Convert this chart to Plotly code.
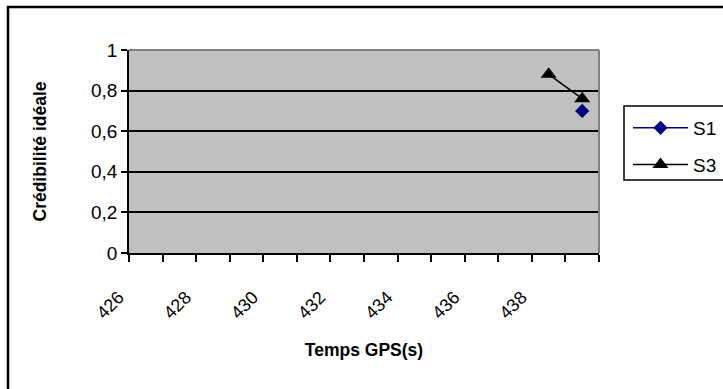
import plotly.graph_objects as go

categories = list(range(426, 440))
s1_x = [439]
s1_y = [0.70]
s3_x = [438, 439]
s3_y = [0.88, 0.76]
label_vals = categories[::2]
y_ticks = [0, 0.2, 0.4, 0.6, 0.8, 1]

L, R, T, B = 129, 124, 50, 136
W, H = 723, 389
PW, PH = W - L - R, H - T - B

def px(x):
    return (x - L) / PW

def py(y):
    return (H - B - y) / PH

fig = go.Figure()
fig.add_trace(go.Scatter(x=s1_x, y=s1_y, name="S1", mode="lines+markers",
                         legendgroup="a",
                         line=dict(color="#000080", width=1.5),
                         marker=dict(symbol="diamond", size=11, color="#000080")))
fig.add_trace(go.Scatter(x=s3_x, y=s3_y, name="S3", mode="lines+markers",
                         legendgroup="b",
                         line=dict(color="black", width=1.5),
                         marker=dict(symbol="triangle-up", size=14, color="black")))

font = "Liberation Sans, Arial, sans-serif"
fig.update_layout(
    width=W, height=H,
    margin=dict(l=L, r=R, t=T, b=B, pad=0, autoexpand=False),
    paper_bgcolor="white",
    plot_bgcolor="#C0C0C0",
    separators=", ",
    font=dict(family=font, size=18, color="black"),
    showlegend=True,
    legend=dict(x=px(628), y=py(109), xanchor="left", yanchor="top",
                bgcolor="rgba(0,0,0,0)", borderwidth=0, itemwidth=55,
                font=dict(size=19), tracegroupgap=9),
    xaxis=dict(
        range=[categories[0] - 0.5, categories[-1] + 0.5],
        tickvals=label_vals, ticktext=[str(v) for v in label_vals],
        tickangle=-45, ticks="", showgrid=False, zeroline=False,
        showline=True, linecolor="black", linewidth=1.5,
        tickfont=dict(size=18),
        ticklabelstandoff=25, ticklabelshift=-27,
        minor=dict(tickvals=[c - 0.5 for c in categories] + [categories[-1] + 0.5],
                   ticks="outside", ticklen=7, tickwidth=1.5, tickcolor="black",
                   showgrid=False),
        title=dict(text="<b>Temps GPS(s)</b>", font=dict(size=17.5), standoff=22),
    ),
    yaxis=dict(
        range=[0, 1], tickvals=y_ticks, tickformat=".1~f",
        ticks="outside", ticklen=6, tickwidth=1.5, tickcolor="black",
        showline=True, linecolor="black", linewidth=1.5,
        showgrid=True, gridcolor="black", gridwidth=1.5, zeroline=False,
        tickfont=dict(size=19),
        title=dict(text="<b>Crédibilité idéale</b>", font=dict(size=17.5), standoff=40),
    ),
    shapes=[
        dict(type="line", xref="paper", yref="paper", x0=0, x1=1, y0=1, y1=1,
             line=dict(color="#808080", width=2), layer="above"),
        dict(type="line", xref="paper", yref="paper", x0=1, x1=1, y0=0, y1=1,
             line=dict(color="#808080", width=2), layer="above"),
        dict(type="rect", xref="paper", yref="paper",
             x0=px(8), x1=px(780), y0=py(420), y1=py(7),
             line=dict(color="black", width=2.5), fillcolor="rgba(0,0,0,0)"),
        dict(type="rect", xref="paper", yref="paper",
             x0=px(624), x1=px(780), y0=py(180), y1=py(106),
             line=dict(color="black", width=1.5), fillcolor="white", layer="below"),
    ],
)

fig.write_html("out.html")
